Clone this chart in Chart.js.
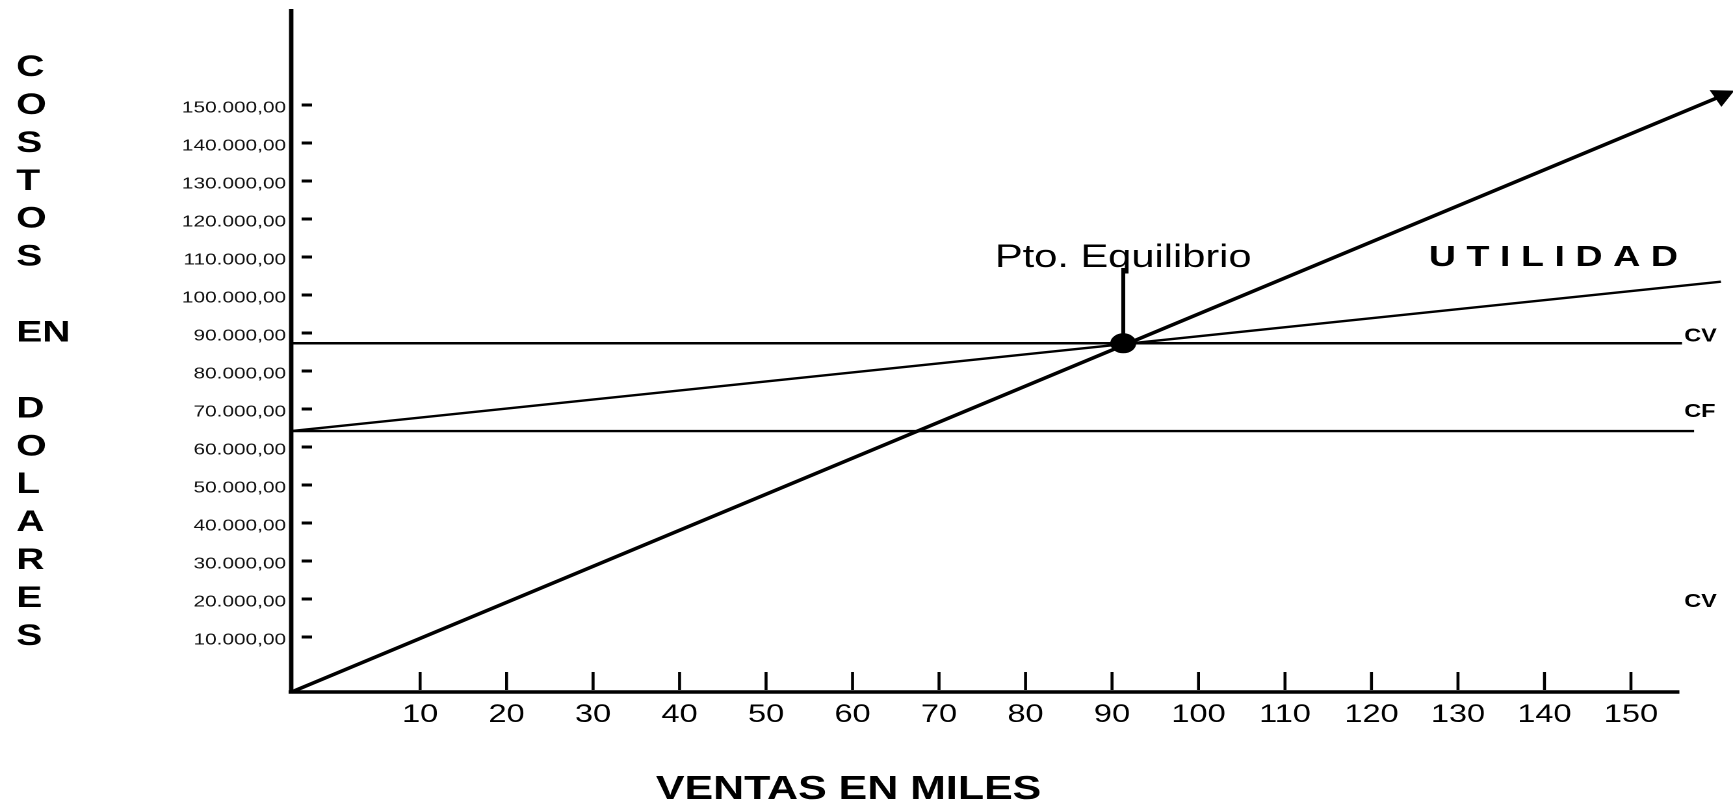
<!DOCTYPE html>
<html>
<head>
<meta charset="utf-8">
<title>Punto de equilibrio</title>
<script src="https://cdn.jsdelivr.net/npm/chart.js@4.4.1/dist/chart.umd.min.js"></script>
<style>
  html, body { margin: 0; padding: 0; background: #fff; overflow: hidden; }
  /* the drawing is laid out narrow and widened horizontally */
  #wrap { width: 1333px; height: 803px; position: relative;
          transform: scaleX(1.30008); transform-origin: 0 0; }
</style>
</head>
<body>
<div id="wrap"><canvas id="chart" width="1333" height="803"></canvas></div>
<script>
// ---- axis ticks ----
const xTickValues = [10, 20, 30, 40, 50, 60, 70, 80, 90, 100, 110, 120, 130, 140, 150];
const yTickValues = [10000, 20000, 30000, 40000, 50000, 60000, 70000, 80000,
                     90000, 100000, 110000, 120000, 130000, 140000, 150000];
const yTickLabels = ['10.000,00', '20.000,00', '30.000,00', '40.000,00', '50.000,00',
                     '60.000,00', '70.000,00', '80.000,00', '90.000,00', '100.000,00',
                     '110.000,00', '120.000,00', '130.000,00', '140.000,00', '150.000,00'];

// ---- series (ventas en miles, dólares) ----
const ventasX = [-4.9, 160.5];
const ventasY = [-4500, 152400];
const costoTotalX = [-4.9, 160.4];
const costoTotalY = [64200, 103500];
const costoVariableX = [-4.9, 155.9];
const costoVariableY = [87300, 87300];
const costoFijoX = [-4.9, 157.3];
const costoFijoY = [64200, 64200];
const equilibrioX = [91.3];
const equilibrioY = [87300];
const marcadorX = [91.3, 91.3];
const marcadorY = [87300, 107100];
const ejeXFin = 155.6;

// ---- texts ----
const yTitleLines = ['C', 'O', 'S', 'T', 'O', 'S', '', 'EN', '', 'D', 'O', 'L', 'A', 'R', 'E', 'S'];
const xTitle = 'VENTAS EN MILES';
const equilibrioLabel = 'Pto. Equilibrio';
const utilidadLabel = 'U T I L I D A D';

const FONT = "'Liberation Sans', Arial, Helvetica, sans-serif";
const pts = (xs, ys) => xs.map((x, i) => ({ x, y: ys[i] }));

// axes, tick marks and free text
const decor = {
  id: 'decor',
  afterDraw(chart) {
    const { ctx, scales: { x, y } } = chart;
    const x0 = x.getPixelForValue(x.min);
    const y0 = y.getPixelForValue(y.min);
    ctx.save();
    ctx.strokeStyle = '#000';
    ctx.fillStyle = '#000';
    ctx.lineCap = 'butt';

    // vertical axis
    ctx.lineWidth = 3.4;
    ctx.beginPath();
    ctx.moveTo(x0, y.getPixelForValue(y.max));
    ctx.lineTo(x0, y0 + 1.5);
    ctx.stroke();
    // horizontal axis
    ctx.lineWidth = 3.5;
    ctx.beginPath();
    ctx.moveTo(x0 - 2, y0);
    ctx.lineTo(x.getPixelForValue(ejeXFin), y0);
    ctx.stroke();

    // short dashes on the value axis
    ctx.lineWidth = 3;
    yTickValues.forEach(v => {
      const py = y.getPixelForValue(v);
      ctx.beginPath();
      ctx.moveTo(x0 + 8, py);
      ctx.lineTo(x0 + 16, py);
      ctx.stroke();
    });
    // upright marks on the sales axis
    ctx.lineWidth = 2.3;
    xTickValues.forEach(v => {
      const px = x.getPixelForValue(v);
      ctx.beginPath();
      ctx.moveTo(px, y0 - 20);
      ctx.lineTo(px, y0 - 2);
      ctx.stroke();
    });

    // stacked title on the left
    ctx.font = `bold 30px ${FONT}`;
    ctx.textAlign = 'left';
    ctx.textBaseline = 'alphabetic';
    yTitleLines.forEach((t, i) => ctx.fillText(t, 12.5, 76 + 37.93 * i));

    // sales axis title
    ctx.font = `bold 33px ${FONT}`;
    ctx.textAlign = 'center';
    ctx.fillText(xTitle, 652.7, 799);

    // break-even label
    const bx = x.getPixelForValue(equilibrioX[0]);
    const stemTop = y.getPixelForValue(marcadorY[1]);
    ctx.font = `32px ${FONT}`;
    ctx.textAlign = 'center';
    ctx.fillText(equilibrioLabel, bx, stemTop - 1);

    // profit area label
    ctx.font = `bold 29px ${FONT}`;
    ctx.textAlign = 'left';
    ctx.fillText(utilidadLabel, 1099, stemTop - 2);

    // line labels
    ctx.font = `bold 18px ${FONT}`;
    const cvY = y.getPixelForValue(costoVariableY[0]);
    const cfY = y.getPixelForValue(costoFijoY[0]);
    ctx.fillText('CV', 1295.5, cvY - 2);
    ctx.fillText('CF', 1295.5, cfY - 14);
    ctx.fillText('CV', 1295.5, 607);
    ctx.restore();
  }
};

const lineBase = {
  showLine: true, borderColor: '#000', backgroundColor: '#000',
  pointRadius: 0, pointHoverRadius: 0, fill: false, clip: false, tension: 0
};

// scale boxes keep exactly the sizes given, without label overhang padding
const fixBox = (size) => (s) => {
  if (s.isHorizontal()) s.height = size; else s.width = size;
  s.paddingTop = 0; s.paddingBottom = 0; s.paddingLeft = 0; s.paddingRight = 0;
};

new Chart(document.getElementById('chart'), {
  type: 'scatter',
  data: {
    datasets: [
      { ...lineBase, label: 'Ventas', data: pts(ventasX, ventasY), borderWidth: 3.4,
        pointStyle: 'triangle', pointRadius: [0, 10], pointHoverRadius: [0, 10],
        pointBackgroundColor: '#000', pointBorderColor: '#000', pointBorderWidth: 1,
        pointRotation: (c) => {
          const { x, y } = c.chart.scales;
          const dx = x.getPixelForValue(ventasX[1]) - x.getPixelForValue(ventasX[0]);
          const dy = y.getPixelForValue(ventasY[1]) - y.getPixelForValue(ventasY[0]);
          return 90 + Math.atan2(dy, dx) * 180 / Math.PI;
        } },
      { ...lineBase, label: 'Costo total', data: pts(costoTotalX, costoTotalY), borderWidth: 2.4 },
      { ...lineBase, label: 'CV', data: pts(costoVariableX, costoVariableY), borderWidth: 2.4 },
      { ...lineBase, label: 'CF', data: pts(costoFijoX, costoFijoY), borderWidth: 2.4 },
      { ...lineBase, label: 'Marcador', data: pts(marcadorX, marcadorY), borderWidth: 3 },
      { label: 'Pto. Equilibrio', data: pts(equilibrioX, equilibrioY), showLine: false,
        pointStyle: 'circle', pointRadius: 9.5, pointHoverRadius: 9.5,
        pointBackgroundColor: '#000', pointBorderColor: '#000', clip: false }
    ]
  },
  options: {
    responsive: false,
    devicePixelRatio: 2,
    animation: false,
    events: [],
    layout: { autoPadding: false, padding: { top: 9, left: 0, right: 0, bottom: 0 } },
    plugins: { legend: { display: false }, tooltip: { enabled: false }, title: { display: false } },
    scales: {
      x: {
        type: 'linear', min: -4.9, max: 161.8,
        afterFit: fixBox(111),
        afterBuildTicks: (s) => { s.ticks = xTickValues.map(v => ({ value: v })); },
        grid: { display: false, drawTicks: false },
        border: { display: false },
        ticks: { color: '#000', font: { family: FONT, size: 25 }, padding: 8,
                 autoSkip: false, maxRotation: 0, minRotation: 0,
                 callback: (v) => String(v) }
      },
      y: {
        type: 'linear', min: -4470, max: 175260,
        afterFit: fixBox(224),
        afterBuildTicks: (s) => { s.ticks = yTickValues.map(v => ({ value: v })); },
        grid: { display: false, drawTicks: false },
        border: { display: false },
        ticks: { color: '#111', font: { family: FONT, size: 16 }, padding: 4,
                 labelOffset: 3, autoSkip: false,
                 callback: (v) => yTickLabels[yTickValues.indexOf(v)] }
      }
    }
  },
  plugins: [decor]
});
</script>
</body>
</html>
